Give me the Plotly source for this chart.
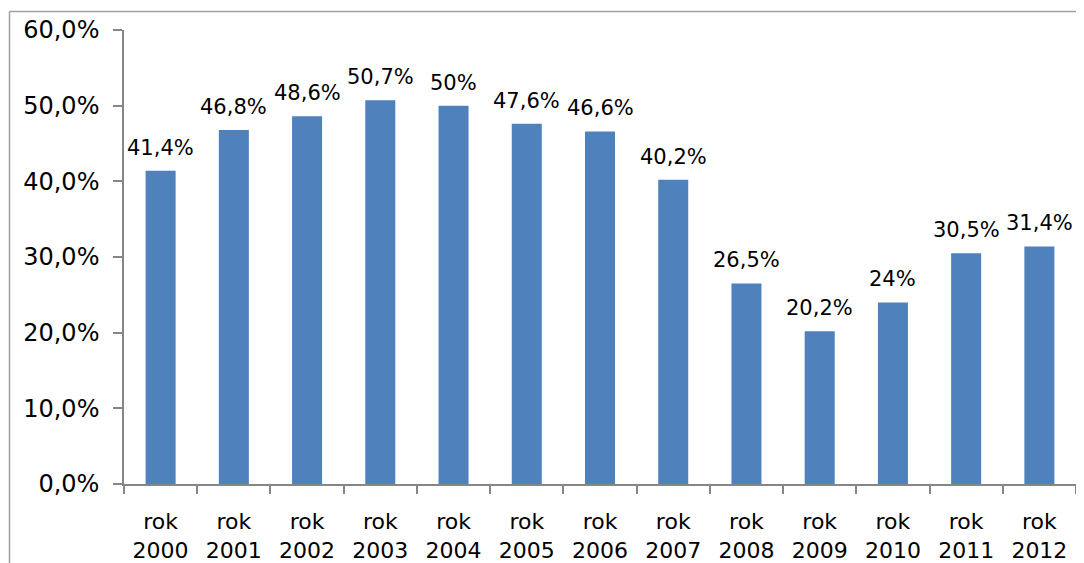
import plotly.graph_objects as go

categories = ["rok<br>2000", "rok<br>2001", "rok<br>2002", "rok<br>2003", "rok<br>2004",
              "rok<br>2005", "rok<br>2006", "rok<br>2007", "rok<br>2008", "rok<br>2009",
              "rok<br>2010", "rok<br>2011", "rok<br>2012"]
values = [41.4, 46.8, 48.6, 50.7, 50.0, 47.6, 46.6, 40.2, 26.5, 20.2, 24.0, 30.5, 31.4]
value_labels = ["41,4%", "46,8%", "48,6%", "50,7%", "50%", "47,6%", "46,6%", "40,2%",
                "26,5%", "20,2%", "24%", "30,5%", "31,4%"]
y_tickvals = [0, 10, 20, 30, 40, 50, 60]
y_ticktext = ["0,0%", "10,0%", "20,0%", "30,0%", "40,0%", "50,0%", "60,0%"]

FONT = "DejaVu Sans"
AXIS_COLOR = "#868686"

W, H = 1076, 555
ML, MR, MT, MB = 116, 8, 22, 79
PW = W - ML - MR
PH = H - MT - MB

fig = go.Figure()
fig.add_trace(go.Bar(x=categories, y=values, marker_color="#4F81BD",
                     marker_line_width=0, width=0.41, hoverinfo="skip"))

for c, v, t in zip(categories, values, value_labels):
    fig.add_annotation(x=c, y=v, text=t, showarrow=False, yanchor="middle", yshift=23,
                       font=dict(family=FONT, size=21, color="#000000"))

# chart-area border (top and left visible)
bx = (1.5 - ML) / PW
by = (MT + PH - 3.5) / PH
fig.add_shape(type="line", xref="paper", yref="paper",
              x0=bx, x1=1.2, y0=by, y1=by,
              line=dict(color="#A0A0A0", width=1.5))
fig.add_shape(type="line", xref="paper", yref="paper",
              x0=bx, x1=bx, y0=-0.3, y1=by,
              line=dict(color="#A0A0A0", width=1.5))

fig.update_layout(
    width=W, height=H,
    margin=dict(l=ML, r=MR, t=MT, b=MB, autoexpand=False),
    paper_bgcolor="white", plot_bgcolor="white",
    showlegend=False, bargap=0.59,
    font=dict(family=FONT, color="#000000"),
)
fig.update_xaxes(
    showline=True, linecolor=AXIS_COLOR, linewidth=1.5,
    ticks="outside", tickson="boundaries", ticklen=8, tickcolor=AXIS_COLOR, tickwidth=1.5,
    tickfont=dict(family=FONT, size=22, color="#000000"),
    showgrid=False, ticklabelstandoff=17, automargin=False,
)
fig.update_yaxes(
    range=[0, 60], tickvals=y_tickvals, ticktext=y_ticktext,
    showline=True, linecolor=AXIS_COLOR, linewidth=1.5,
    ticks="outside", ticklen=9, tickcolor=AXIS_COLOR, tickwidth=1.5,
    tickfont=dict(family=FONT, size=24, color="#000000"),
    showgrid=False, zeroline=False, ticklabelstandoff=9, automargin=False,
)

fig.write_html("out.html")
